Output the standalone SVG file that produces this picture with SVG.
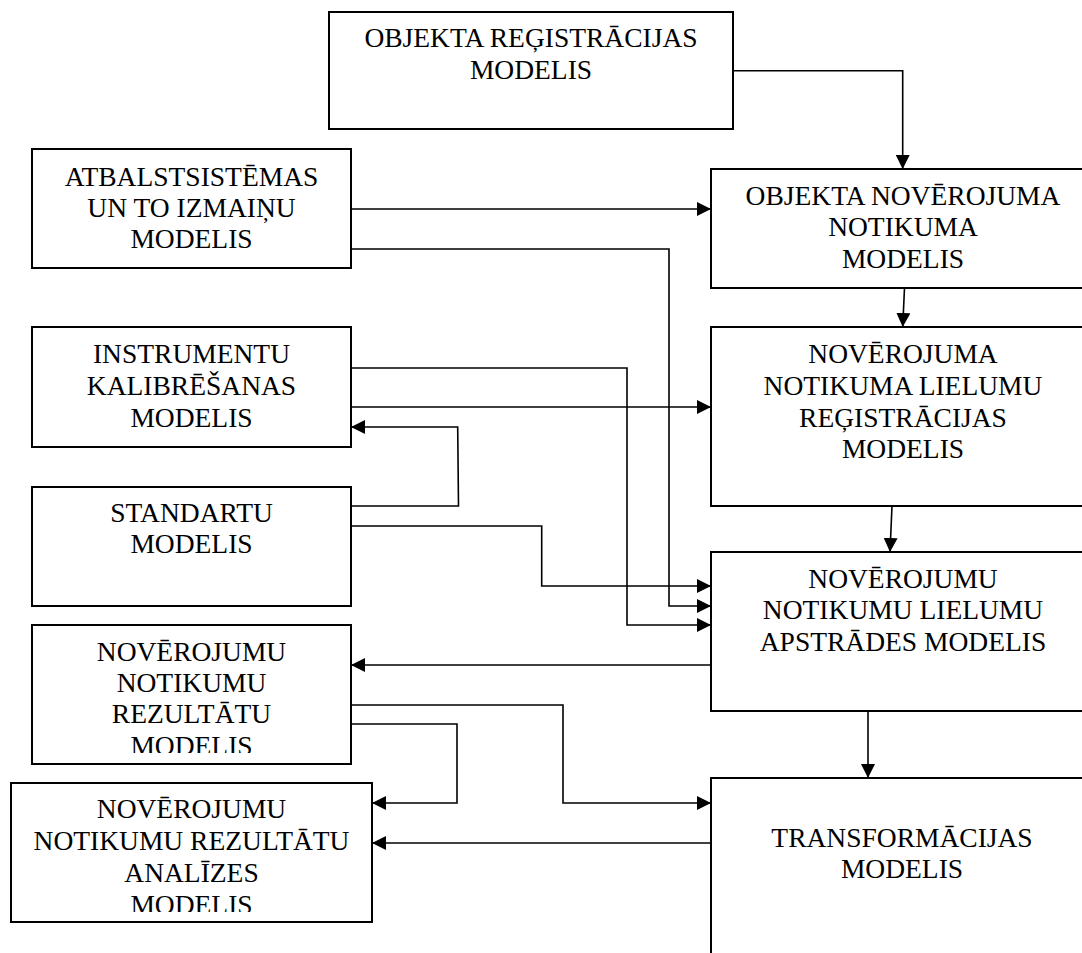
<svg xmlns="http://www.w3.org/2000/svg" width="1082" height="953" viewBox="0 0 1082 953">
<style>
.box{fill:#fff;stroke:#000;stroke-width:2}
.t{font-family:"Liberation Serif","Times New Roman",serif;font-size:27.5px;fill:#000;text-anchor:middle}
.c{fill:none;stroke:#000;stroke-width:1.6}
</style>
<defs>
<marker id="ah" markerUnits="userSpaceOnUse" markerWidth="14" markerHeight="14" refX="14" refY="7" orient="auto">
<path d="M0,0 L14,7 L0,14 z" fill="#000"/>
</marker>
<clipPath id="clipRez"><rect x="32" y="625" width="320" height="128"/></clipPath>
<clipPath id="clipAna"><rect x="11" y="783" width="362" height="129"/></clipPath>
</defs>
<rect width="1082" height="953" fill="#fff"/>

<g id="n-objekta-registracijas">
<rect class="box" x="329" y="12" width="404" height="117"/>
<text class="t" x="531" y="47">OBJEKTA REĢISTRĀCIJAS</text>
<text class="t" x="531" y="79">MODELIS</text>
</g>

<g id="n-atbalstsistemas">
<rect class="box" x="32" y="149" width="319" height="119"/>
<text class="t" x="191.5" y="186">ATBALSTSISTĒMAS</text>
<text class="t" x="191.5" y="217">UN TO IZMAIŅU</text>
<text class="t" x="191.5" y="248">MODELIS</text>
</g>

<g id="n-objekta-noverojuma">
<rect class="box" x="711" y="169" width="400" height="119"/>
<text class="t" x="903" y="205">OBJEKTA NOVĒROJUMA</text>
<text class="t" x="903" y="236">NOTIKUMA</text>
<text class="t" x="903" y="268">MODELIS</text>
</g>

<g id="n-instrumentu">
<rect class="box" x="32" y="327" width="319" height="120"/>
<text class="t" x="191.5" y="363">INSTRUMENTU</text>
<text class="t" x="191.5" y="395">KALIBRĒŠANAS</text>
<text class="t" x="191.5" y="427">MODELIS</text>
</g>

<g id="n-lielumu-registracijas">
<rect class="box" x="711" y="327" width="400" height="179"/>
<text class="t" x="903" y="363">NOVĒROJUMA</text>
<text class="t" x="903" y="395">NOTIKUMA LIELUMU</text>
<text class="t" x="903" y="427">REĢISTRĀCIJAS</text>
<text class="t" x="903" y="458">MODELIS</text>
</g>

<g id="n-standartu">
<rect class="box" x="32" y="487" width="319" height="119"/>
<text class="t" x="191.5" y="522">STANDARTU</text>
<text class="t" x="191.5" y="553">MODELIS</text>
</g>

<g id="n-apstrades">
<rect class="box" x="711" y="552" width="400" height="159"/>
<text class="t" x="903" y="588">NOVĒROJUMU</text>
<text class="t" x="903" y="619">NOTIKUMU LIELUMU</text>
<text class="t" x="903" y="651">APSTRĀDES MODELIS</text>
</g>

<g id="n-rezultatu">
<rect class="box" x="32" y="625" width="319" height="139"/>
<g clip-path="url(#clipRez)">
<text class="t" x="191.5" y="661">NOVĒROJUMU</text>
<text class="t" x="191.5" y="692">NOTIKUMU</text>
<text class="t" x="191.5" y="723">REZULTĀTU</text>
<text class="t" x="191.5" y="755">MODELIS</text>
</g>
</g>

<g id="n-analizes">
<rect class="box" x="11" y="783" width="361" height="139"/>
<g clip-path="url(#clipAna)">
<text class="t" x="191.5" y="818">NOVĒROJUMU</text>
<text class="t" x="191.5" y="850">NOTIKUMU REZULTĀTU</text>
<text class="t" x="191.5" y="882">ANALĪZES</text>
<text class="t" x="191.5" y="914">MODELIS</text>
</g>
</g>

<g id="n-transformacijas">
<rect class="box" x="711" y="778" width="400" height="200"/>
<text class="t" x="902" y="847">TRANSFORMĀCIJAS</text>
<text class="t" x="902" y="878">MODELIS</text>
</g>

<g id="connectors">
<path class="c" d="M733,70.7 H902.7 V169" marker-end="url(#ah)"/>
<path class="c" d="M904.5,288 L902.7,327" marker-end="url(#ah)"/>
<path class="c" d="M892,506 L890,552" marker-end="url(#ah)"/>
<path class="c" d="M868,711 V778" marker-end="url(#ah)"/>
<path class="c" d="M351,209 H711" marker-end="url(#ah)"/>
<path class="c" d="M351,249 H669 V606 H711" marker-end="url(#ah)"/>
<path class="c" d="M351,368 H627 V625 H711" marker-end="url(#ah)"/>
<path class="c" d="M351,407 H711" marker-end="url(#ah)"/>
<path class="c" d="M351,506 H458.5 L457.7,427 H351" marker-end="url(#ah)"/>
<path class="c" d="M351,526 H541.7 V586 H711" marker-end="url(#ah)"/>
<path class="c" d="M711,665 H351" marker-end="url(#ah)"/>
<path class="c" d="M351,705 H563 V803 H711" marker-end="url(#ah)"/>
<path class="c" d="M351,724 H457 V803 H372" marker-end="url(#ah)"/>
<path class="c" d="M711,843 H372" marker-end="url(#ah)"/>
</g>
</svg>
